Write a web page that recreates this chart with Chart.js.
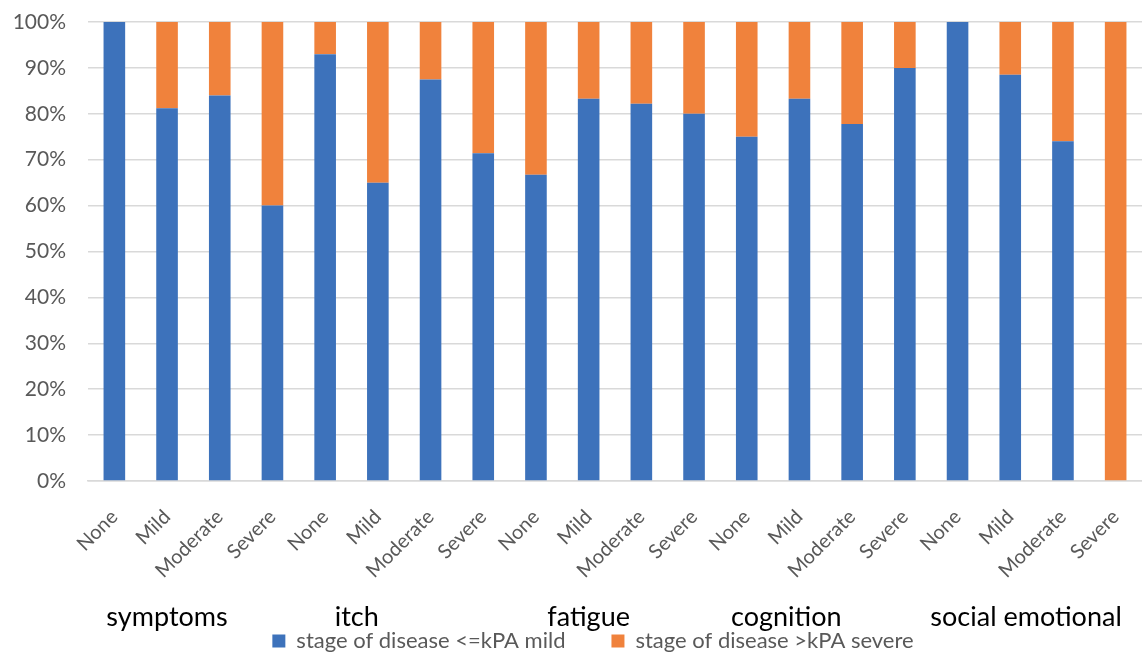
<!DOCTYPE html>
<html lang="en">
<head>
  <meta charset="UTF-8">
  <title>Stage of disease by symptom severity</title>
  <script src="https://cdn.jsdelivr.net/npm/chart.js"></script>
  <style>
    html, body { margin: 0; padding: 0; background: #fff; }
    #wrap { width: 1142px; height: 655px; }
  </style>
</head>
<body>
  <div id="wrap"><canvas id="stageChart"></canvas></div>

  <script>
    // Données
    const severity = ['None', 'Mild', 'Moderate', 'Severe'];
    const groups = ['symptoms', 'itch', 'fatigue', 'cognition', 'social emotional'];
    const mild = [
      100, 81.2, 84, 60,
      93, 65, 87.5, 71.4,
      66.7, 83.3, 82.2, 80,
      75, 83.3, 77.8, 90,
      100, 88.5, 74, 0
    ];
    const severe = mild.map(v => +(100 - v).toFixed(1));
    const yTicks = [0, 10, 20, 30, 40, 50, 60, 70, 80, 90, 100];

    const labels = [];
    groups.forEach(() => severity.forEach(s => labels.push(s)));

    // where each group name sits, in category units
    const groupAt = [1.0, 4.6, 9.0, 12.75, 17.3];

    const FONT = 'Lato, "Open Sans", sans-serif';

    // noms des groupes sous les étiquettes + léger décalage de la légende
    const groupNames = {
      id: 'groupNames',
      afterLayout(chart) {
        chart.legend.left += 22;
        chart.legend.right += 22;
      },
      afterDraw(chart) {
        const c = chart.ctx;
        const x = chart.scales.x;
        c.save();
        c.font = '27px ' + FONT;
        c.fillStyle = '#000';
        c.textAlign = 'center';
        c.textBaseline = 'middle';
        const y = chart.legend.top + 33;
        groups.forEach((g, i) => c.fillText(g, x.getPixelForValue(groupAt[i]), y));
        c.restore();
      }
    };

    const ctx = document.getElementById('stageChart').getContext('2d');
    new Chart(ctx, {
      type: 'bar',
      data: {
        labels: labels,
        datasets: [{
          label: 'stage of disease <=kPA mild',
          data: mild,
          backgroundColor: '#3d72bb'
        }, {
          label: 'stage of disease >kPA severe',
          data: severe,
          backgroundColor: '#f0823c'
        }]
      },
      options: {
        responsive: true,
        maintainAspectRatio: false,
        animation: false,
        layout: { padding: { top: 22, right: 0, bottom: 0, left: 0 } },
        datasets: { bar: { categoryPercentage: 1, barPercentage: 0.41 } },
        scales: {
          x: {
            stacked: true,
            grid: { display: false },
            border: { color: '#d9d9d9', width: 1.5 },
            ticks: {
              color: '#595959',
              font: { family: FONT, size: 20 },
              minRotation: 45, maxRotation: 45, autoSkip: false, padding: 16
            },
            afterFit(axis) { axis.paddingLeft = 0; axis.paddingRight = 0; axis.height = 103; }
          },
          y: {
            stacked: true,
            min: 0, max: 100,
            afterBuildTicks(axis) { axis.ticks = yTicks.map(v => ({ value: v })); },
            grid: { color: '#d9d9d9', lineWidth: 1.5, drawTicks: false },
            border: { display: false },
            ticks: {
              color: '#595959',
              font: { family: FONT, size: 21 },
              padding: 22,
              callback: v => v + '%'
            },
            afterFit(axis) { axis.width = 88; axis.paddingTop = 0; axis.paddingBottom = 0; }
          }
        },
        plugins: {
          legend: {
            position: 'bottom',
            maxHeight: 71,
            labels: {
              color: '#595959',
              font: { family: FONT, size: 22 },
              boxWidth: 13, boxHeight: 13, padding: 46
            }
          },
          tooltip: { enabled: false }
        }
      },
      plugins: [groupNames]
    });
  </script>
</body>
</html>
